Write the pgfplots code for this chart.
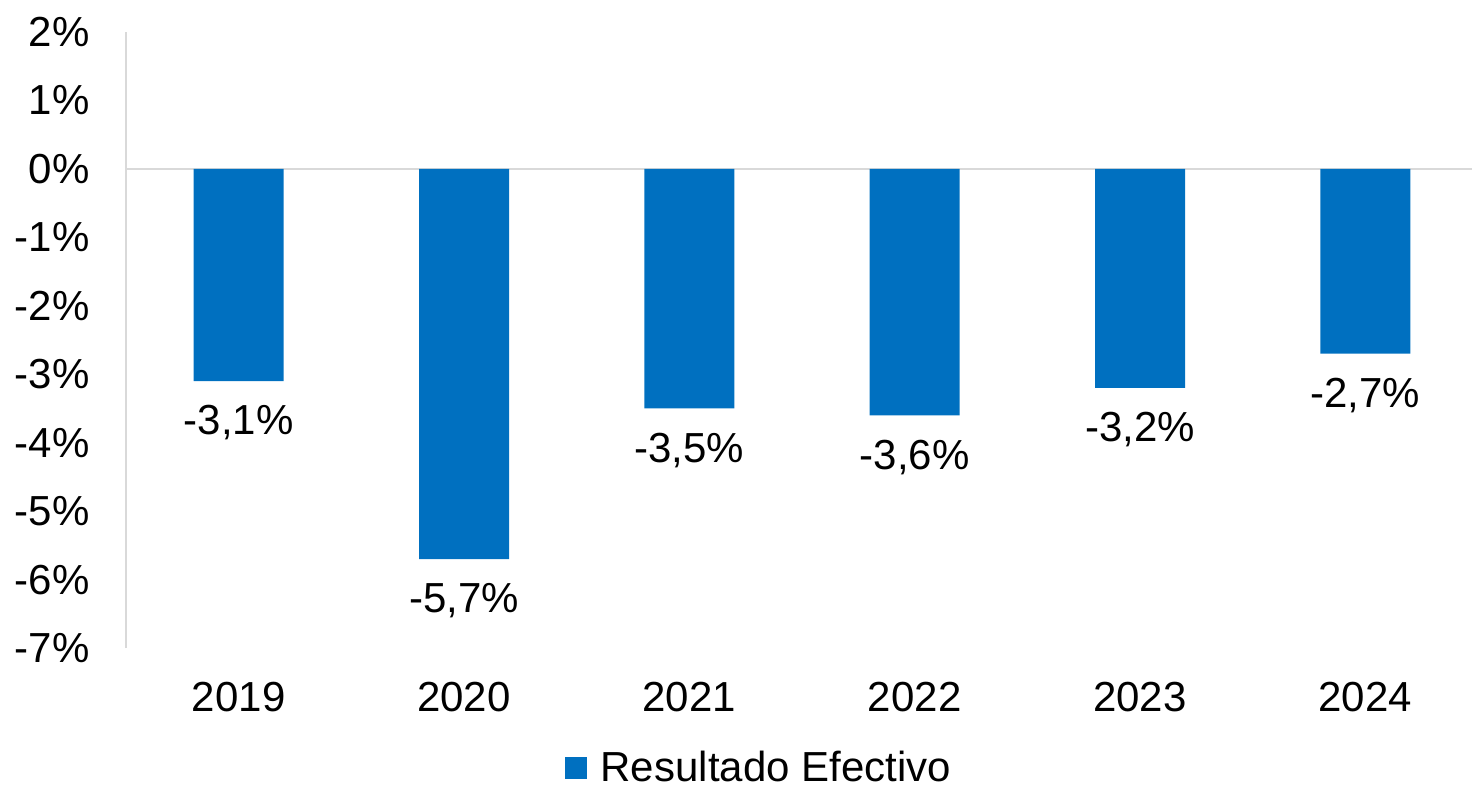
\documentclass[border=0pt]{standalone}
\usepackage{fontspec}
\setmainfont{Liberation Sans}
\usepackage{pgfplots}
\pgfplotsset{compat=1.18}
\definecolor{barblue}{HTML}{0070C0}
\definecolor{axgray}{HTML}{D9D9D9}

\begin{document}
\begin{tikzpicture}
  \useasboundingbox (-63pt,-70pt) rectangle (673pt,324pt);
  \begin{axis}[
    scale only axis,
    width=676pt, height=308pt,
    xmin=-0.5, xmax=5.5,
    ymin=-7, ymax=2,
    axis lines=left,
    separate axis lines,
    x axis line style={draw=none},
    y axis line style={draw=axgray, line width=1pt, -},
    major tick length=0pt,
    tick style={draw=none},
    xtick={0,1,2,3,4,5},
    xticklabels={2019,2020,2021,2022,2023,2024},
    ytick={-7,-6,-5,-4,-3,-2,-1,0,1,2},
    yticklabels={-7\%,-6\%,-5\%,-4\%,-3\%,-2\%,-1\%,0\%,1\%,2\%},
    ticklabel style={font=\fontsize{21}{25}\selectfont, text=black, inner sep=0pt},
    xticklabel style={yshift=-17pt},
    yticklabel style={xshift=-18pt},
    extra y ticks={0},
    extra y tick labels={},
    extra y tick style={ymajorgrids=true, major grid style={draw=axgray, line width=1pt}},
    ybar, bar width=45pt,
    point meta=explicit symbolic,
    nodes near coords,
    every node near coord/.append style={font=\fontsize{21}{25}\selectfont, text=black, inner sep=0pt, anchor=north, yshift=-12pt},
    legend style={at={(0.4695,0)}, anchor=center, xshift=-0.5pt, yshift=-60pt, draw=none, fill=none,
      font=\fontsize{21}{25}\selectfont, inner sep=0pt, cells={anchor=west}},
    legend image code/.code={\fill[barblue] (0pt,-5.5pt) rectangle (11pt,5.5pt); \path (16pt,0pt);},
    clip=false
  ]
    \addplot[fill=barblue, draw=none] coordinates {
      (0,-3.1) [-3,1\%]
      (1,-5.7) [-5,7\%]
      (2,-3.5) [-3,5\%]
      (3,-3.6) [-3,6\%]
      (4,-3.2) [-3,2\%]
      (5,-2.7) [-2,7\%]
    };
    \addlegendentry{Resultado Efectivo}
  \end{axis}
\end{tikzpicture}
\end{document}
